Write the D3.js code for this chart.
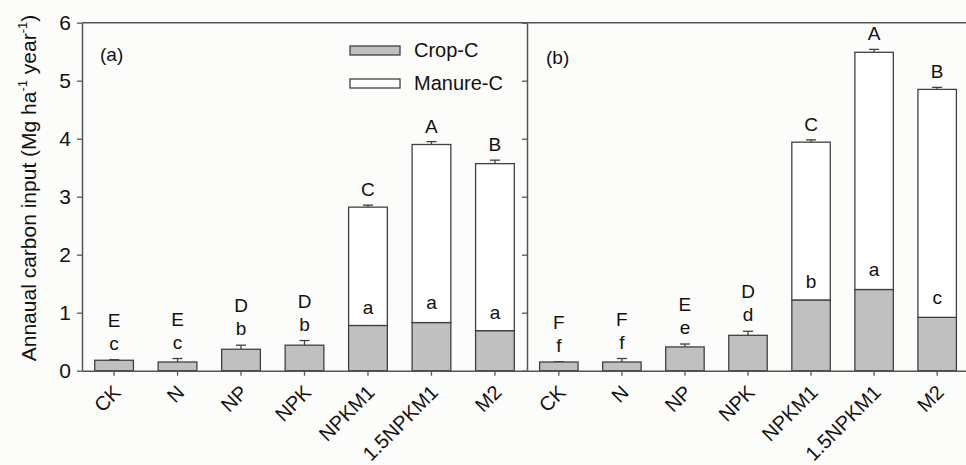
<!DOCTYPE html>
<html>
<head>
<meta charset="utf-8">
<script src="https://cdn.jsdelivr.net/npm/d3@7"></script>
<style>
  body { margin: 0; background: #fcfcfa; }
  svg { display: block; font-family: Arial, "Liberation Sans", sans-serif; }
</style>
</head>
<body>
<script>
const svgW = 966;
const svgH = 465;

// 数据
const treatments = ['CK', 'N', 'NP', 'NPK', 'NPKM1', '1.5NPKM1', 'M2'];
const cropA = [0.18, 0.15, 0.37, 0.44, 0.78, 0.83, 0.69];
const cropErrA = [0.01, 0.06, 0.07, 0.08, 0.03, 0.06, 0.035];
const manureA = [0, 0, 0, 0, 2.04, 3.07, 2.88];
const totalErrA = [0, 0, 0, 0, 0.035, 0.05, 0.06];
const upperA = ['E', 'E', 'D', 'D', 'C', 'A', 'B'];
const lowerA = ['c', 'c', 'b', 'b', 'a', 'a', 'a'];

const cropB = [0.15, 0.15, 0.41, 0.61, 1.22, 1.40, 0.92];
const cropErrB = [0.005, 0.06, 0.05, 0.07, 0.04, 0.06, 0.06];
const manureB = [0, 0, 0, 0, 2.72, 4.09, 3.93];
const totalErrB = [0, 0, 0, 0, 0.04, 0.05, 0.035];
const upperB = ['F', 'F', 'E', 'D', 'C', 'A', 'B'];
const lowerB = ['f', 'f', 'e', 'd', 'b', 'a', 'c'];

const yTicks = [0, 1, 2, 3, 4, 5, 6];

const plotTop = 22.7, plotBottom = 370.7;
const axisColor = '#555';
const barStroke = '#404040';

const svg = d3.select('body')
              .append('svg')
              .attr('width', svgW)
              .attr('height', svgH);

const yScale = d3.scaleLinear()
                  .domain([0, 6])
                  .range([plotBottom, plotTop]);

function drawPanel(x0, x1, crop, cropErr, manure, totalErr, upper, lower, showLabels) {
  const g = svg.append('g');
  const xScale = d3.scaleBand()
                    .domain(treatments)
                    .range([x0, x1])
                    .paddingInner(0.39)
                    .paddingOuter(0.2);
  const bw = xScale.bandwidth();
  const rows = treatments.map((t, i) => ({
    t, crop: crop[i], cErr: cropErr[i], manure: manure[i], tErr: totalErr[i],
    up: upper[i], lo: lower[i]
  }));

  // 误差线
  const errs = [];
  rows.forEach(d => {
    errs.push({ t: d.t, v: d.crop, e: d.cErr });
    if (d.manure > 0) errs.push({ t: d.t, v: d.crop + d.manure, e: d.tErr });
  });
  const cx = t => xScale(t) + bw / 2;

  errs.forEach(d => {
    g.append('line')
      .attr('x1', cx(d.t)).attr('x2', cx(d.t))
      .attr('y1', yScale(d.v)).attr('y2', yScale(d.v + d.e))
      .attr('stroke', barStroke).attr('stroke-width', 1.3);
    g.append('line')
      .attr('x1', cx(d.t) - 5).attr('x2', cx(d.t) + 5)
      .attr('y1', yScale(d.v + d.e)).attr('y2', yScale(d.v + d.e))
      .attr('stroke', barStroke).attr('stroke-width', 1.3);
  });

  // 柱子
  g.selectAll('.crop')
    .data(rows)
    .enter()
    .append('rect')
    .attr('class', 'crop')
    .attr('x', d => xScale(d.t))
    .attr('y', d => yScale(d.crop))
    .attr('width', bw)
    .attr('height', d => plotBottom - yScale(d.crop))
    .attr('fill', '#c0c0c0')
    .attr('stroke', barStroke)
    .attr('stroke-width', 1.3);

  g.selectAll('.manure')
    .data(rows.filter(d => d.manure > 0))
    .enter()
    .append('rect')
    .attr('class', 'manure')
    .attr('x', d => xScale(d.t))
    .attr('y', d => yScale(d.crop + d.manure))
    .attr('width', bw)
    .attr('height', d => yScale(d.crop) - yScale(d.crop + d.manure))
    .attr('fill', '#ffffff')
    .attr('stroke', barStroke)
    .attr('stroke-width', 1.3);

  // 字母
  rows.forEach(d => {
    const loY = yScale(d.crop + d.cErr) - 10;
    const upY = d.manure > 0 ? yScale(d.crop + d.manure + d.tErr) - 9 : loY - 23;
    g.append('text')
      .attr('x', cx(d.t)).attr('y', loY)
      .attr('text-anchor', 'middle')
      .attr('font-size', 19)
      .attr('fill', '#111')
      .text(d.lo);
    g.append('text')
      .attr('x', cx(d.t)).attr('y', upY)
      .attr('text-anchor', 'middle')
      .attr('font-size', 19)
      .attr('fill', '#111')
      .text(d.up);
  });

  // x坐标轴
  const xAxis = g.append('g')
    .attr('transform', `translate(0, ${plotBottom})`)
    .call(d3.axisBottom(xScale).tickSize(5).tickSizeOuter(0));
  xAxis.select('.domain').attr('stroke', axisColor).attr('stroke-width', 1.5);
  xAxis.selectAll('.tick line').attr('stroke', axisColor).attr('stroke-width', 1.3);
  xAxis.selectAll('.tick text')
    .attr('font-size', 20)
    .attr('fill', '#111')
    .attr('text-anchor', 'end')
    .attr('x', 0)
    .attr('y', 0)
    .attr('dy', null)
    .attr('transform', 'translate(8, 23) rotate(-45)');

  // y坐标轴
  const yAxis = g.append('g')
    .attr('transform', `translate(${x0}, 0)`)
    .call(d3.axisLeft(yScale).tickValues(yTicks).tickFormat(d3.format('d')).tickSize(5).tickSizeOuter(0).tickPadding(6));
  yAxis.select('.domain').attr('stroke', axisColor).attr('stroke-width', 1.5);
  yAxis.selectAll('.tick line').attr('stroke', axisColor).attr('stroke-width', 1.3);
  yAxis.selectAll('.tick text')
    .attr('font-size', 21)
    .attr('fill', '#111')
    .style('display', showLabels ? null : 'none');

  // 上边框
  g.append('line')
    .attr('x1', x0).attr('x2', x1)
    .attr('y1', plotTop).attr('y2', plotTop)
    .attr('stroke', axisColor).attr('stroke-width', 1.5);
}

drawPanel(82, 527, cropA, cropErrA, manureA, totalErrA, upperA, lowerA, true);
drawPanel(527, 969, cropB, cropErrB, manureB, totalErrB, upperB, lowerB, false);

// 面板标签
svg.append('text').attr('x', 100).attr('y', 61).attr('font-size', 19).attr('fill', '#111').text('(a)');
svg.append('text').attr('x', 546).attr('y', 64).attr('font-size', 19).attr('fill', '#111').text('(b)');

// 图例
const legend = [
  { name: 'Crop-C', fill: '#c0c0c0', y: 46 },
  { name: 'Manure-C', fill: '#ffffff', y: 79 }
];
legend.forEach(d => {
  svg.append('rect')
    .attr('x', 350).attr('y', d.y).attr('width', 50).attr('height', 9)
    .attr('fill', d.fill).attr('stroke', barStroke).attr('stroke-width', 1.3);
  svg.append('text')
    .attr('x', 414).attr('y', d.y + 11)
    .attr('font-size', 20).attr('fill', '#111')
    .text(d.name);
});

// y轴标题
const yl = svg.append('text')
  .attr('transform', 'translate(36, 188) rotate(-90)')
  .attr('text-anchor', 'middle')
  .attr('font-size', 21)
  .attr('fill', '#111');
yl.append('tspan').text('Annaual carbon input (Mg ha');
yl.append('tspan').attr('font-size', 13).attr('dy', -9).text('-1');
yl.append('tspan').attr('dy', 9).text(' year');
yl.append('tspan').attr('font-size', 13).attr('dy', -9).text('-1');
yl.append('tspan').attr('dy', 9).text(')');
</script>
</body>
</html>
